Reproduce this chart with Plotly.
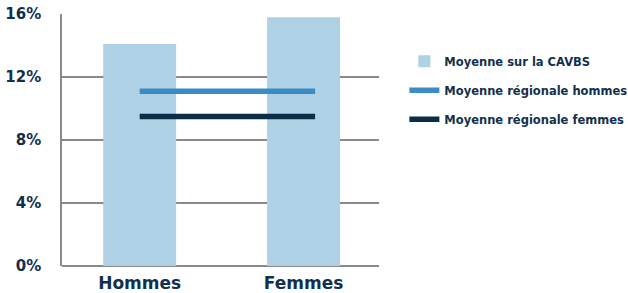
import plotly.graph_objects as go

categories = ["Hommes", "Femmes"]
cat_pos = [0, 1]
cavbs_values = [14.1, 15.8]
regional_hommes = [11.1, 11.1]
regional_femmes = [9.5, 9.5]
line_x = [0, 1.07]
y_ticks = [0, 4, 8, 12, 16]
y_tick_labels = ["0%", "4%", "8%", "12%", "16%"]

navy = "#12304d"
fam = "DejaVu Sans"
fig = go.Figure()
fig.add_trace(go.Bar(x=cat_pos, y=cavbs_values, name="Moyenne sur la CAVBS",
                     marker=dict(color="#aed1e6", line=dict(width=0)), width=0.445,
                     legendgroup="a"))
fig.add_trace(go.Scatter(x=line_x, y=regional_hommes, mode="lines",
                         name="Moyenne régionale hommes",
                         line=dict(color="#3b8cc6", width=5.5), legendgroup="b"))
fig.add_trace(go.Scatter(x=line_x, y=regional_femmes, mode="lines",
                         name="Moyenne régionale femmes",
                         line=dict(color="#0b2d48", width=5.5), legendgroup="c"))

fig.update_layout(
    width=628, height=293,
    margin=dict(l=62, r=249, t=14, b=27, autoexpand=False),
    plot_bgcolor="white", paper_bgcolor="white",
    font=dict(family=fam, color=navy),
    showlegend=True,
    legend=dict(x=1.08, y=0.87, xanchor="left", yanchor="top",
                font=dict(size=11.5, color=navy, weight="bold", family=fam),
                tracegroupgap=10, itemwidth=30, bgcolor="rgba(0,0,0,0)"),
    xaxis=dict(range=[-0.474, 1.46], tickvals=cat_pos, ticktext=categories,
               tickfont=dict(size=17, color=navy, weight="bold", family=fam), automargin=False,
               ticklabelstandoff=5,
               showgrid=False, zeroline=False, showline=False, ticks="", fixedrange=True),
    yaxis=dict(range=[0, 16], tickvals=y_ticks, ticktext=y_tick_labels,
               tickfont=dict(size=15, color=navy, weight="bold", family=fam), automargin=False,
               showgrid=True, gridcolor="#8a8a8a", gridwidth=1.5,
               zeroline=True, zerolinecolor="#8a8a8a", zerolinewidth=1.5,
               showline=True, linecolor="#8a8a8a", linewidth=1.5,
               ticks="", ticklabelstandoff=16, fixedrange=True),
)
fig.write_html("out.html", config={"displayModeBar": False},
               post_script="document.body.style.margin='0px';")
